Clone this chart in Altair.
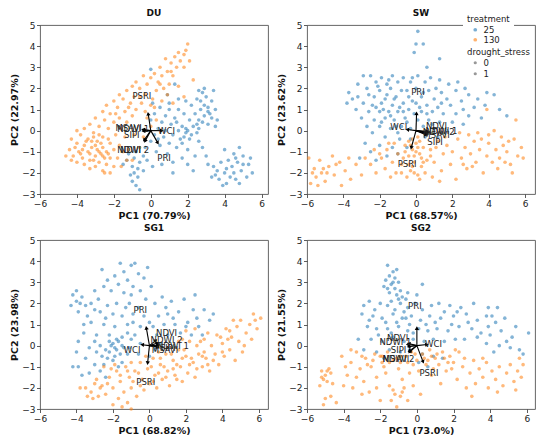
import altair as alt
import pandas as pd

PANELS = ["DU", "SW", "SG1", "SG2"]
PC1_TITLES = ["PC1 (70.79%)", "PC1 (68.57%)", "PC1 (68.82%)", "PC1 (73.0%)"]
PC2_TITLES = ["PC2 (22.97%)", "PC2 (23.62%)", "PC2 (23.98%)", "PC2 (21.55%)"]
X_MAX = [6.35, 6.55, 6.5, 6.45]
X_TICKS = [-6, -4, -2, 0, 2, 4, 6]
Y_TICKS = [-3, -2, -1, 0, 1, 2, 3, 4, 5]
TREATMENTS = ["25", "130"]
TREATMENT_COLORS = ["#1f77b4", "#ff7f0e"]
DROUGHT_LEVELS = ["0", "1"]

# ---- scores (PC1, PC2) ----
DU_25 = [(2.6,1.9),(2.8,1.8),(3.0,1.6),(2.5,1.5),(3.3,1.4),(2.9,1.2),(2.7,1.0),(3.1,0.9),(3.5,1.0),(2.4,0.8),
 (2.9,0.7),(3.3,0.6),(2.6,0.5),(3.1,0.3),(3.6,0.5),(2.2,1.2),(3.4,1.9),(2.9,2.0),(3.1,1.1),(2.8,0.4),(3.5,0.2),
 (1.0,1.3),(0.5,1.1),(1.5,1.0),(0.2,0.8),(0.8,0.7),(1.3,0.6),(1.8,0.8),(0.0,0.5),(0.6,0.4),(1.1,0.3),(1.7,0.2),
 (2.0,0.0),(1.5,0.0),(0.4,0.1),(2.2,-0.2),(1.8,-0.3),(1.2,-0.2),(0.7,-0.3),(0.2,-0.2),(2.5,-0.1),(1.9,0.1),
 (2.3,0.2),(1.6,-0.4),(2.6,-0.5),(1.0,-0.6),(0.5,-0.7),(1.4,-0.8),(2.0,-0.9),(2.4,-1.2),(0.3,-1.0),(0.9,-1.1),
 (1.7,-1.3),(2.8,-0.8),(3.0,-1.2),(1.2,-1.5),(0.6,-1.6),(2.0,-1.6),(1.5,1.5),(0.9,1.7),(1.9,1.4),(0.1,1.3),
 (1.3,2.2),(1.0,1.0),(2.1,0.5),(2.6,0.1),(1.9,-0.1),(2.1,-0.4),(0.0,-0.5),(-0.3,-0.8),(0.0,2.9),
 (-0.4,-1.2),(-0.8,-1.0),(-1.2,-1.1),(-0.6,-1.5),(-1.0,-1.7),(-1.3,-1.4),(-0.9,-2.0),(-0.7,-2.2),(-1.0,-2.4),
 (-0.8,-2.6),(-1.1,-2.1),(-0.6,-2.8),(-0.9,-1.3),(-1.5,-1.6),(-0.2,-1.4),(-0.4,-1.9),(0.1,-1.7),
 (4.0,-0.9),(4.8,-0.8),(4.5,-1.1),(5.0,-1.2),(4.2,-1.4),(3.8,-1.5),(4.7,-1.5),(5.3,-1.6),(4.4,-1.7),(3.6,-1.9),
 (4.0,-2.0),(4.9,-1.9),(5.5,-2.0),(4.3,-2.2),(3.7,-2.3),(4.6,-2.3),(5.2,-2.2),(3.9,-2.6),(3.5,-2.1),(4.1,-2.5),
 (4.8,-2.5),(5.0,-1.6),(4.5,-2.0),(4.1,-1.8),(3.3,-2.2),(3.4,-1.7),(2.3,-1.9),(1.2,-2.0),(3.1,-1.6),
 (2.7,1.4),(3.2,0.8),(2.5,0.3),(1.4,0.4),(0.8,0.0),(1.7,-0.6),(0.4,-0.4),(-0.7,-1.8),(4.6,-1.3),(5.4,-1.3)]
DU_130 = [(2.0,4.1),(1.5,3.7),(1.9,3.8),(1.8,3.6),(1.3,3.5),(1.6,3.3),(2.1,3.3),(0.8,3.4),(1.1,3.2),(0.5,3.0),
 (1.4,3.0),(0.9,2.8),(1.8,3.0),(0.2,2.7),(0.0,2.5),(0.6,2.6),(-0.4,2.6),(1.2,2.6),(2.3,2.4),(0.4,2.3),(-0.8,2.3),
 (1.0,2.2),(-0.2,2.2),(-1.0,2.1),(0.7,2.0),(-0.6,2.0),(1.5,2.1),(0.3,1.9),(-1.3,1.9),(0.9,1.7),(1.8,1.6),
 (-1.7,1.7),(-0.3,1.7),(-0.9,1.6),(0.1,1.5),(-1.5,1.5),(-2.0,1.4),(0.6,1.4),(-0.5,1.3),(-1.1,1.3),(1.2,1.3),
 (-2.4,1.2),(-1.8,1.1),(-0.8,1.0),(-1.4,0.9),(0.2,1.1),(-2.6,0.9),(-2.2,0.8),(-0.3,0.9),(-1.0,0.7),(-3.0,0.6),
 (-1.7,0.6),(-2.5,0.5),(-2.0,0.4),(-3.3,0.3),(-1.3,0.4),(-2.8,0.2),(-3.6,0.1),(-2.3,0.1),(-1.6,0.1),(-4.0,0.0),
 (-3.1,-0.1),(-1.9,-0.2),(-3.8,-0.2),(-2.6,-0.3),(-1.4,-0.3),(-4.3,-0.4),(-3.4,-0.4),(-2.9,-0.5),(-2.2,-0.6),
 (-4.0,-0.6),(-3.6,-0.7),(-1.7,-0.7),(-2.6,-0.8),(-3.2,-0.8),(-4.4,-0.9),(-2.0,-0.9),(-2.8,-1.0),(-3.9,-1.0),
 (-3.4,-1.0),(-1.2,-0.9),(-2.4,-1.0),(-0.6,-0.8),(-4.2,-1.2),(-3.0,-1.2),(-2.6,-1.2),(-3.7,-1.3),(-2.2,-1.3),
 (-4.6,-1.2),(-1.8,-1.3),(-3.3,-1.4),(-2.8,-1.5),(-4.0,-1.5),(-1.3,-1.4),(-2.4,-1.6),(-3.6,-1.6),(-3.0,-1.7),
 (-2.0,-1.7),(-2.6,-1.9),(-1.6,-1.7),(-3.3,-1.8),(-2.2,-2.0),(-2.5,-2.0),(-1.0,-1.4),(-0.4,-0.3),(0.0,0.2),
 (-0.9,-0.2),(-0.2,0.6),(0.3,0.5),(-3.0,-0.7),(-2.7,-0.6),(-3.3,-1.1),(-2.5,-1.3),(-2.9,-0.9),(-3.5,-0.5),
 (-2.3,-0.4),(-3.1,-0.3),(-4.1,-0.8),(-3.8,-1.1),(-2.7,-1.1),(-3.2,-0.5),(-1.2,1.1),(-0.6,1.6),(0.5,2.2),
 (-1.9,0.8),(-2.8,-0.2),(-3.7,-0.9),(-2.3,-1.1),(-1.5,-1.0),(-4.3,-1.4),(-3.1,-1.4),(0.0,1.2),(1.1,2.8)]

SW_25 = [(0.1,4.7),(0.0,4.1),(0.4,4.1),(1.3,3.4),(-0.1,3.7),(0.6,3.0),
 (-2.9,2.6),(-2.5,2.6),(-1.9,2.5),(-1.3,2.6),(-0.7,2.5),(0.1,2.6),(0.8,2.5),(1.3,2.4),(-2.2,2.3),(-0.3,2.3),
 (0.5,2.3),(-1.6,2.2),(-3.2,2.2),(1.8,2.2),(2.3,2.3),(-3.7,1.8),(-2.7,2.0),(-2.0,1.9),(-1.4,2.0),(-0.8,1.9),
 (0.0,2.0),(0.7,1.9),(1.4,1.8),(2.2,1.9),(2.9,1.7),(3.9,1.8),(-3.2,1.6),(-2.3,1.6),(-1.7,1.5),(-1.1,1.6),
 (-0.4,1.6),(0.3,1.6),(1.0,1.5),(1.7,1.5),(2.5,1.4),(3.4,1.5),(4.3,1.7),(-3.8,1.3),(-2.9,1.3),(-2.4,1.2),
 (-1.9,1.3),(-1.3,1.2),(-0.7,1.3),(0.0,1.3),(0.6,1.2),(1.2,1.1),(1.9,1.2),(2.6,1.0),(3.2,1.1),(3.8,1.2),
 (4.6,1.0),(5.0,0.7),(-3.3,1.0),(-2.6,0.9),(-2.0,0.9),(-1.5,0.9),(-1.0,0.9),(-0.4,1.0),(0.3,0.9),(0.9,0.9),
 (1.5,0.8),(2.2,0.8),(2.9,0.7),(3.6,0.6),(-3.0,0.6),(-2.3,0.5),(-1.7,0.6),(-1.2,0.5),(-0.6,0.6),(0.1,0.5),
 (0.7,0.5),(1.3,0.4),(2.0,0.4),(2.6,0.3),(-2.7,0.2),(-2.0,0.2),(-1.4,0.1),(-0.8,0.2),(-0.3,0.1),(0.4,0.2),
 (1.0,0.1),(1.7,0.0),(-1.0,-0.1),(-2.4,-0.1),(-1.7,-0.3),(-0.9,-0.4),(-0.3,-0.4),(0.5,-0.3),(1.2,-0.3),
 (-2.0,-0.7),(-1.3,-0.8),(-0.5,-0.8),(-2.5,-1.0),(-1.6,-1.2),(-3.1,-1.3),(-2.2,-1.4),(-1.0,-1.1),(-2.8,-0.6),
 (-0.9,1.1),(-0.2,1.4),(-1.6,1.7),(-0.5,0.4),(0.6,0.8),(-1.2,1.5),(-0.1,0.8),(-1.9,0.4),(-2.1,2.1),(-1.0,2.3),
 (1.1,2.0),(-0.5,1.9),(2.7,2.0),(-3.5,1.5),(-1.4,0.7),(0.9,0.3),(-2.6,1.7),(-1.8,1.0),(-0.7,0.9),(0.2,1.1),
 (1.4,1.3),(-1.1,0.2),(-2.2,1.1),(0.4,1.8),(-0.2,2.5),(-1.5,2.4)]
SW_130 = [(-5.8,-2.5),(-5.5,-2.2),(-5.6,-1.8),(-5.2,-2.0),(-5.0,-2.4),(-4.8,-1.7),(-4.5,-2.1),(-4.2,-1.5),
 (-5.9,-1.3),(-5.3,-1.4),(-4.6,-1.2),(-3.9,-1.9),(-3.6,-2.3),(-4.1,-2.6),(-3.3,-1.6),(-3.0,-2.1),(-5.7,-2.0),
 (-4.9,-2.0),(-5.4,-2.6),(-3.7,-1.3),(-2.5,-1.6),(-2.2,-2.0),(-1.9,-1.3),(-1.6,-0.9),(-1.3,-1.5),(-1.0,-1.1),
 (-1.2,-0.6),(-2.3,-0.9),(-1.7,-1.8),(-0.8,-1.6),(-0.6,-0.7),(-0.4,-1.2),(-0.2,-0.9),(-0.1,-1.5),(0.0,-0.6),
 (0.2,-1.1),(-0.3,-1.9),(0.1,-2.1),(-0.5,-2.2),(0.3,-1.7),(-0.2,-0.4),(0.1,-0.3),(0.4,-0.8),(0.6,-1.4),
 (-0.1,-1.2),(-0.3,-0.7),(0.0,-1.0),(-0.4,-1.6),(0.2,-2.3),(0.5,-2.0),(0.8,-0.9),(1.0,-1.5),(1.2,-0.5),
 (1.4,-1.9),(1.5,-1.1),(1.7,-0.7),(1.9,-1.6),(2.0,-1.0),(2.2,-2.3),(2.3,-0.4),(2.5,-1.3),(2.7,-0.8),(2.8,-1.8),
 (3.0,-1.1),(3.2,-0.5),(3.3,-1.5),(3.5,-0.9),(3.7,-2.0),(3.9,-1.2),(4.0,-0.6),(4.2,-1.5),(4.4,-0.9),(4.6,-1.3),
 (4.8,-0.7),(5.0,-1.0),(5.2,-1.6),(5.4,-0.4),(5.6,-1.2),(5.8,-0.8),(5.9,-1.3),(4.0,-0.2),(5.5,0.5),(4.3,0.0),
 (3.9,1.0),(2.9,-0.2),(1.3,-2.4),(0.9,-2.2),(5.3,-2.0),(4.7,-0.3),(3.6,-0.4),(-0.7,-1.3),(-1.1,-2.0),(0.8,-1.2),
 (1.1,-0.8),(-1.5,-0.6),(-2.0,-1.1),(-0.2,-1.7),(0.1,-0.8),(-0.6,-1.0),(0.3,-1.3),(2.4,-0.1),(1.6,-0.3),
 (-2.8,-1.3),(-1.4,-2.2),(3.1,-1.7),(4.5,-1.8),(5.1,-0.5),(-0.4,-0.5),(0.2,-0.5),(-0.1,-2.0),(0.4,-1.5),
 (-0.8,-2.0),(-4.4,-1.6),(-5.1,-1.8),(2.6,-1.6),(4.9,-1.5),(3.4,-0.1)]

SG1_25 = [(-1.6,3.9),(-1.0,3.8),(-0.8,3.9),(-0.1,3.7),(-2.6,3.6),(-1.4,3.5),(-0.6,3.4),(-1.9,3.3),(-1.2,3.1),
 (-0.3,3.2),(-2.3,3.1),(-2.5,2.8),(-1.7,2.9),(-0.9,2.8),(-2.1,2.6),(-1.4,2.5),(-0.5,2.6),(0.1,2.8),
 (-4.3,1.9),(-4.0,2.1),(-3.7,2.3),(-3.5,1.9),(-3.9,1.6),(-4.2,2.4),(-3.2,2.0),(-3.0,1.7),(-4.0,2.6),(-2.8,2.2),
 (-3.4,1.4),(-2.7,1.6),(-2.3,1.9),(-1.8,2.0),(-1.1,2.0),(-0.6,1.8),(0.3,2.0),(-2.0,1.5),(-1.5,1.4),(-0.9,1.5),
 (-0.3,1.4),(0.5,1.4),(1.0,1.5),(1.6,1.6),(2.4,1.7),(3.0,1.7),(-3.2,1.1),(-2.5,1.0),(-1.9,0.9),(-1.2,1.0),
 (-0.5,0.9),(0.2,0.9),(0.8,1.0),(1.4,1.0),(2.1,1.1),(2.7,0.9),(3.3,1.2),(3.5,1.5),(-3.6,0.6),(-2.9,0.5),
 (-2.2,0.5),(-1.5,0.4),(-0.8,0.5),(0.4,0.5),(1.0,0.5),(1.7,0.6),(2.3,0.5),(2.9,0.5),(-3.9,0.2),(-3.3,-0.1),
 (-2.7,0.0),(-1.1,-0.1),(-0.5,0.1),(-2.0,0.1),(-1.8,-0.2),(-2.2,-0.3),(-1.6,-0.4),(-1.9,-0.5),(-2.1,0.0),
 (-1.7,0.2),(-1.4,-0.1),(-2.4,-0.2),(-2.0,-0.7),(-1.5,-0.8),(-2.6,-0.5),(-1.2,-0.4),(-1.8,0.3),(-2.3,-0.6),
 (-4.0,-0.3),(-3.5,-0.6),(-3.9,-1.0),(-3.0,-0.9),(-3.3,-1.3),(-2.7,-1.2),(-2.4,-1.5),(-3.7,-1.4),(-4.2,-1.0),
 (-0.6,-0.4),(0.0,-0.5),(0.6,0.1),(0.3,-0.2),(1.2,2.1),(2.5,2.4),(1.9,2.2),(0.7,2.3),(2.0,0.9),(-1.0,2.4),
 (-0.2,2.2),(-3.0,2.6),(-1.3,1.8),(-2.4,1.3),(0.0,1.1),(1.3,1.3),(-3.0,0.2),(-1.0,0.3),(-2.9,-0.3),(-1.7,-1.0),
 (-1.9,-0.1),(-2.2,0.2),(-1.5,0.0),(-2.5,-0.9),(-3.6,1.0),(-0.9,1.1),(0.9,1.8),(2.6,1.3),(-1.2,0.6),(-3.8,2.0)]
SG1_130 = [(-3.5,-2.0),(-3.2,-2.2),(-3.0,-1.8),(-2.8,-2.4),(-2.6,-1.9),(-2.4,-2.3),(-2.2,-1.5),(-2.0,-2.0),
 (-1.8,-1.2),(-1.7,-2.5),(-1.6,-1.7),(-1.4,-2.2),(-1.3,-1.0),(-1.1,-1.5),(-1.0,-2.0),(-0.8,-1.2),(-0.7,-2.4),
 (-0.5,-0.8),(-0.4,-1.6),(-0.3,-2.1),(-0.1,-1.1),(0.0,-1.8),(0.2,-0.6),(0.3,-1.4),(0.4,-2.0),(0.6,-0.9),
 (0.7,-1.6),(0.9,-0.4),(1.0,-1.2),(1.1,-1.9),(1.3,-0.7),(1.4,-1.4),(1.6,-0.2),(1.7,-1.0),(1.8,-1.7),(2.0,-0.5),
 (2.1,-1.3),(2.2,0.2),(2.4,-0.8),(2.5,-1.5),(2.6,0.0),(2.7,-0.4),(2.9,-1.0),(3.0,0.3),(3.1,-0.6),(3.3,-1.2),
 (3.4,0.0),(3.6,-0.4),(3.7,0.5),(3.8,-0.9),(4.0,0.1),(4.1,-0.5),(4.2,0.8),(4.4,-0.2),(4.5,0.4),(4.7,-0.7),
 (4.8,0.9),(4.9,0.2),(5.1,-0.3),(5.3,0.6),(5.5,1.0),(5.6,0.3),(5.8,1.2),(5.9,0.8),(6.1,1.3),(5.7,1.5),(5.0,1.2),
 (4.6,1.2),(-2.0,-2.8),(-1.5,-2.9),(-1.2,-2.7),(-1.0,-3.0),(-3.8,-2.0),(-3.4,-2.4),(-2.9,-1.6),(-2.5,-1.0),
 (-2.1,-1.1),(-1.9,-0.9),(0.5,-0.3),(0.8,-1.0),(1.2,-0.4),(1.5,-0.9),(1.9,-0.2),(2.3,-0.6),(0.1,-1.0),
 (-0.6,-1.3),(1.0,-0.1),(2.8,0.2),(3.2,0.6),(3.9,0.4),(1.8,0.3),(2.0,0.7),(2.5,0.8),(-1.0,-0.8),(-0.2,-0.5),
 (0.5,-1.3),(1.3,-1.1),(2.2,-0.9),(3.0,-0.3),(3.5,-0.7),(4.3,0.3),(5.2,0.0),(-2.7,-2.0),(-0.9,-1.7),
 (-1.6,-1.4),(0.9,-1.5),(2.6,-1.1),(4.0,-0.3),(4.4,0.7),(1.6,0.2),(-2.3,-1.8),(-1.2,-1.2),(0.2,-1.7),
 (1.5,-1.6),(3.2,-0.9),(-0.5,-1.9),(-3.1,-2.5),(0.6,-0.6),(1.8,-0.6),(2.9,-0.5)]

SG2_25 = [(-1.6,3.8),(-1.1,3.6),(-1.3,3.5),(-1.5,3.3),(-1.2,3.2),(-1.7,3.1),(-1.0,3.0),(-1.4,2.9),(-1.8,2.8),
 (-1.2,2.7),(-0.9,2.6),(-1.5,2.5),(-1.1,2.4),(0.3,2.9),(-0.6,2.2),(-2.6,2.1),(-2.9,1.9),(-2.0,2.0),(-1.6,1.9),
 (-0.9,2.0),(-0.5,1.8),(-0.1,2.0),(0.3,1.7),(0.8,1.9),(1.2,2.0),(1.8,1.9),(2.4,1.8),(3.1,2.0),(3.9,1.8),
 (4.4,1.8),(-3.0,1.5),(-2.4,1.4),(-1.9,1.3),(-1.3,1.5),(-0.8,1.3),(-0.3,1.4),(0.2,1.2),(0.7,1.4),(1.3,1.3),
 (2.0,1.4),(2.7,1.5),(3.3,1.2),(3.8,1.4),(4.3,1.1),(4.8,1.3),(-2.7,0.9),(-2.2,0.8),(-1.6,0.8),(-1.0,0.9),
 (-0.5,0.7),(0.1,0.8),(0.6,0.7),(1.1,0.8),(1.7,0.7),(2.3,0.9),(3.0,0.8),(3.5,0.6),(4.0,0.5),(4.6,0.7),(5.2,0.4),
 (6.1,0.6),(-3.2,0.3),(-2.5,0.3),(-1.9,0.2),(-1.3,0.4),(-0.7,0.2),(-0.2,0.3),(0.4,0.2),(0.9,0.3),(1.5,0.2),
 (2.1,0.3),(3.8,0.1),(4.5,0.0),(5.1,-0.1),(5.6,-0.2),(5.8,-0.4),(-2.9,-0.2),(-2.2,-0.3),(-1.5,-0.2),(-0.9,-0.3),
 (-0.4,-0.2),(0.3,-0.4),(0.9,-0.5),(1.4,-0.6),(-1.8,-0.6),(0.6,-1.0),(0.1,-0.8),(4.2,-0.3),(3.9,0.9),(2.6,0.3),
 (1.9,1.0),(-0.5,2.5),(-2.3,1.7),(0.0,2.4),(-1.2,1.7),(-0.7,1.6),(-1.1,1.1),(-0.4,1.0),(-1.4,2.1),(-0.8,2.3),
 (1.5,1.6),(2.8,1.1),(5.4,0.9),(4.9,0.2),(3.3,0.4),(-1.7,1.1),(-2.1,0.5),(-0.2,0.6),(-1.3,3.0),(-1.6,2.7),
 (-1.0,2.2),(-0.6,1.3),(-1.4,0.6),(0.5,1.0),(1.0,1.1),(-2.6,1.2),(2.2,1.6),(4.1,1.4)]
SG2_130 = [(-5.2,-1.2),(-5.0,-1.4),(-4.9,-1.7),(-5.1,-1.6),(-4.7,-1.3),(-4.6,-1.8),(-5.3,-1.9),(-4.8,-1.1),
 (-5.0,-2.5),(-4.7,-2.4),(-4.4,-2.7),(-5.1,-2.8),(-4.1,-0.5),(-3.8,-1.4),(-3.6,-0.8),(-3.5,-2.0),(-3.3,-0.3),
 (-3.1,-1.1),(-2.9,-1.7),(-2.8,-0.6),(-2.6,-2.2),(-2.5,-1.0),(-2.3,-0.4),(-2.2,-1.5),(-2.0,-2.6),(-1.9,-0.8),
 (-1.7,-1.3),(-1.6,-0.3),(-1.5,-1.9),(-1.3,-0.7),(-1.2,-2.3),(-1.0,-1.1),(-0.9,-0.5),(-0.8,-1.6),(-0.7,-2.0),
 (-0.5,-0.8),(-0.4,-1.3),(-0.3,-0.3),(-0.2,-1.9),(0.0,-0.7),(0.1,-1.2),(0.3,-0.4),(0.5,-0.9),(0.7,-0.2),
 (0.8,-1.4),(1.0,-0.6),(1.2,-0.9),(1.4,-0.3),(1.6,-1.2),(1.8,-0.5),(2.0,-0.8),(2.2,-1.6),(2.3,-0.3),(2.5,-1.0),
 (2.7,-2.0),(2.9,-1.3),(3.1,-0.7),(3.2,-1.8),(3.4,-1.1),(3.6,-1.5),(3.8,-0.8),(3.9,-2.0),(4.1,-1.2),(4.3,-1.6),
 (4.5,-1.0),(4.7,-1.9),(4.9,-1.3),(5.1,-0.9),(5.3,-1.7),(5.5,-1.2),(5.7,-1.5),(5.8,-0.9),(5.4,-2.1),
 (-1.1,-2.9),(-1.4,-2.6),(-0.9,-2.4),(-0.5,-2.6),(-2.2,-2.0),(-3.0,-2.3),(-4.0,-1.9),(-3.3,-1.5),(-2.7,-0.9),
 (-2.0,-0.5),(-1.5,-0.8),(-0.9,-0.8),(0.4,-0.6),(1.1,-0.4),(1.7,-0.8),(-3.6,-0.2),(-0.1,-0.4),(2.1,-0.2),
 (1.3,-1.8),(0.2,-2.3),(-2.4,-0.7),(-1.1,-0.6),(-0.6,-0.5),(0.6,-0.7),(1.5,-0.6),(-1.8,-1.0),(-3.9,-1.0),
 (2.6,-0.6),(4.4,-2.2),(3.0,-2.4),(5.6,-0.6),(0.9,-1.1),(-4.9,-1.2),(-5.2,-1.5),(-1.3,-2.1),(-0.8,-2.2),
 (-1.9,-0.5),(-0.2,-0.9),(0.8,-0.5),(1.9,-1.1),(-3.0,-0.5),(3.6,-0.6)]

# ---- loadings: (variable, arrow tip PC1, arrow tip PC2, label PC1, label PC2) ----
DU_LOADINGS = [("PSRI",-0.14,0.80,-0.48,1.62),("WCI",0.60,0.00,0.85,-0.03),("PRI",0.38,-0.58,0.72,-1.30),
 ("NDWI 2",-0.31,-0.50,-0.95,-0.94),("NDVI",-0.36,-0.45,-1.10,-0.94),("MSAVI",-0.42,0.05,-1.20,0.12),
 ("NDWI 1",-0.38,0.02,-0.95,0.10),("SIPI",-0.40,-0.02,-1.03,-0.19)]
SW_LOADINGS = [("PRI",0.03,0.82,0.11,1.82),("WCI",-0.48,0.05,-0.95,0.18),("PSRI",-0.26,-0.81,-0.49,-1.58),
 ("NDVI",0.62,-0.03,1.13,0.20),("NDWI 1",0.65,-0.08,1.40,0.00),("NDWI 2",0.60,-0.12,1.25,-0.05),
 ("MSAVI",0.60,-0.15,1.13,-0.22),("SIPI",0.55,-0.20,1.05,-0.55)]
SG1_LOADINGS = [("PRI",-0.17,0.84,-0.50,1.67),("WCI",-0.40,0.04,-0.95,-0.19),("PSRI",-0.10,-0.83,-0.20,-1.74),
 ("NDVI",0.35,0.25,0.94,0.58),("NDWI 2",0.45,0.12,0.94,0.26),("NDWI 1",0.50,0.02,1.29,0.00),
 ("MSAVI",0.48,-0.05,0.85,-0.19),("SIPI",0.45,-0.08,1.00,-0.12)]
SG2_LOADINGS = [("PRI",0.00,0.83,-0.11,1.88),("WCI",0.55,0.05,0.91,0.10),("PSRI",0.34,-0.77,0.66,-1.30),
 ("NDVI",-0.45,0.10,-1.05,0.38),("NDWI 1",-0.50,0.05,-1.17,0.17),("SIPI",-0.45,-0.05,-1.00,-0.19),
 ("MSAVI",-0.42,-0.25,-1.14,-0.61),("NDWI 2",-0.40,-0.30,-1.00,-0.61)]

SCORES = [(DU_25, DU_130), (SW_25, SW_130), (SG1_25, SG1_130), (SG2_25, SG2_130)]
LOADINGS = [DU_LOADINGS, SW_LOADINGS, SG1_LOADINGS, SG2_LOADINGS]

W, H = 228, 169
FONT = "DejaVu Sans"
LEG_X = 423


def panel(i):
    s25, s130 = SCORES[i]
    df = pd.DataFrame(
        [(x, y, "25") for x, y in s25] + [(x, y, "130") for x, y in s130],
        columns=["pc1", "pc2", "treatment"],
    )
    xs = alt.Scale(domain=[-6, X_MAX[i]], nice=False, zero=False)
    ys = alt.Scale(domain=[-3, 5], nice=False, zero=False)
    xa = alt.Axis(title=PC1_TITLES[i], values=X_TICKS, labelFlush=False, labelOverlap=False)
    ya = alt.Axis(title=PC2_TITLES[i], values=Y_TICKS, labelFlush=False, labelOverlap=False)

    def X(field):
        return alt.X(field, scale=xs, axis=xa)

    def Y(field):
        return alt.Y(field, scale=ys, axis=ya)

    pts = alt.Chart(df).mark_circle(size=13, opacity=0.55).encode(
        x=X("pc1:Q"),
        y=Y("pc2:Q"),
        color=alt.Color(
            "treatment:N",
            scale=alt.Scale(domain=TREATMENTS, range=TREATMENT_COLORS),
            legend=alt.Legend(title="treatment", orient="none", legendX=LEG_X, legendY=-14,
                              symbolSize=14, symbolOpacity=0.6, fillColor="white",
                              padding=4, rowPadding=1, titlePadding=2, titleFontSize=8.5,
                              labelFontSize=8.5, symbolOffset=4),
        ),
    )

    ld = pd.DataFrame(LOADINGS[i], columns=["var", "tx", "ty", "lx", "ly"])
    ld["ox"] = 0.0
    ld["oy"] = 0.0
    rules = alt.Chart(ld).mark_rule(color="black", strokeWidth=1.1).encode(
        x=X("ox:Q"), x2="tx:Q", y=Y("oy:Q"), y2="ty:Q"
    )
    heads = alt.Chart(ld).transform_calculate(
        ang="(atan2(datum.tx * 19.0, datum.ty * 21.0) * 180 / PI + 360) % 360"
    ).mark_point(shape="triangle-up", filled=True, size=18, color="black", opacity=1).encode(
        x=X("tx:Q"), y=Y("ty:Q"),
        angle=alt.Angle("ang:Q", scale=None),
    )
    labels = alt.Chart(ld).mark_text(font=FONT, fontSize=8.5, color="#222").encode(
        x=X("lx:Q"), y=Y("ly:Q"), text="var:N"
    )
    layers = [pts, rules, heads, labels]
    if i == 1:
        dleg = pd.DataFrame({"drought_stress": DROUGHT_LEVELS, "pc1": [-50.0, -50.0], "pc2": [-50.0, -50.0]})
        shp = alt.Chart(dleg).mark_point(filled=True, clip=True, color="#555", opacity=0.6).encode(
            x=X("pc1:Q"), y=Y("pc2:Q"),
            shape=alt.Shape(
                "drought_stress:N",
                scale=alt.Scale(domain=DROUGHT_LEVELS, range=["circle", "circle"]),
                legend=alt.Legend(title="drought_stress", orient="none", legendX=LEG_X, legendY=19,
                                  symbolSize=10, fillColor="white", padding=4, rowPadding=1,
                                  titlePadding=2, titleFontSize=8.5, labelFontSize=8.5,
                                  symbolOffset=4),
            ),
        )
        layers.append(shp)
    return alt.layer(*layers).properties(width=W, height=H, title=PANELS[i])


chart = alt.vconcat(
    alt.hconcat(panel(0), panel(1), spacing=6),
    alt.hconcat(panel(2), panel(3), spacing=6),
    spacing=2,
).properties(padding=0).configure_view(
    stroke="#555", strokeWidth=0.9
).configure_axis(
    domain=False, grid=False, tickColor="#333", tickSize=3.5, tickWidth=0.8,
    labelFont=FONT, labelFontSize=9, labelColor="#222", labelPadding=1.5,
    titleFont=FONT, titleFontSize=9.5, titleFontWeight="bold", titleColor="#111", titlePadding=2.5,
).configure_title(
    font=FONT, fontSize=9, fontWeight="bold", color="#111", offset=3, anchor="middle"
).configure_legend(
    labelFont=FONT, labelColor="#222", titleFont=FONT,
    titleFontWeight="normal", titleColor="#222",
)

chart.save("out.html", embed_options={"renderer": "svg", "actions": False})
